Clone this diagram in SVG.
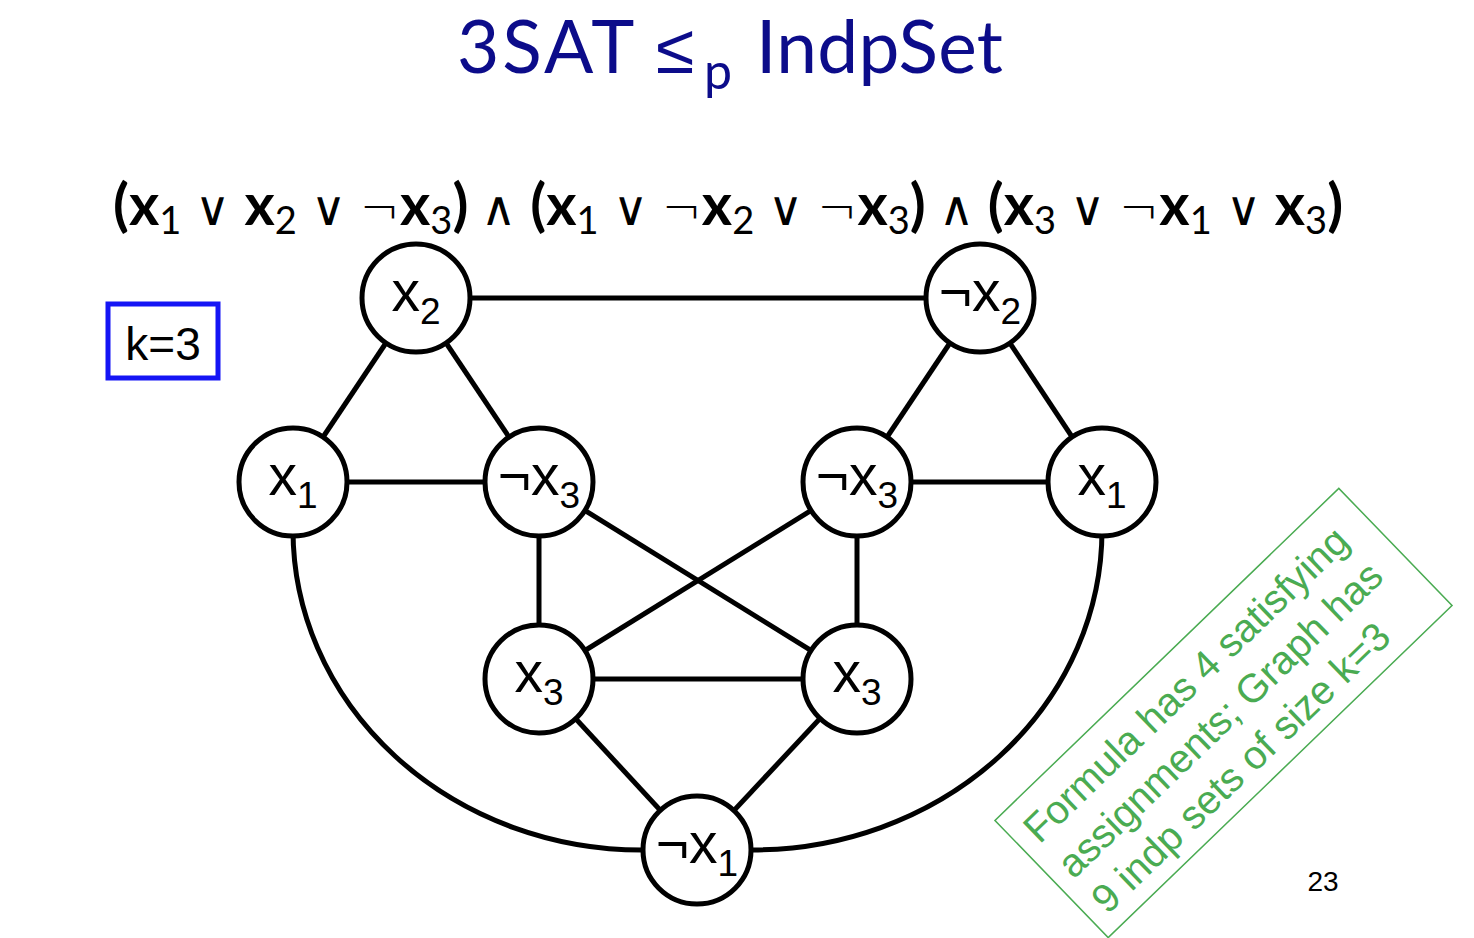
<svg xmlns="http://www.w3.org/2000/svg" width="1474" height="938" viewBox="0 0 1474 938">
<style>
.edge{stroke:#000;stroke-width:5;fill:none}
.node{fill:#fff;stroke:#000;stroke-width:5}
.lbl{font-family:"Liberation Sans",Arial,sans-serif;font-size:57px;fill:#000;text-anchor:middle}
.sub{font-size:37px}
.title{font-family:Lato,"Open Sans",sans-serif;font-size:73px;fill:#0c0c8a}
.formula{font-family:Lato,"Open Sans",sans-serif;font-size:58px;fill:#000;font-weight:bold;word-spacing:-1.2px}
.op{font-family:"DejaVu Sans",sans-serif;font-weight:200;font-size:48px}
.fsub{font-size:38px;font-weight:normal}
.note{font-family:"Liberation Sans",Arial,sans-serif;font-size:40px;fill:#4aab52}
</style>
<rect width="1474" height="938" fill="#fff"/>
<text class="title" y="73"><tspan x="457" letter-spacing="3">3SAT</tspan><tspan x="656" font-family="DejaVu Sans,sans-serif" font-weight="200" font-size="70">≤</tspan><tspan x="704" font-size="50" dy="16">p</tspan><tspan x="756" dy="-16" textLength="247">IndpSet</tspan></text>
<text class="formula" x="113" y="225">(x<tspan class="fsub" dy="9">1</tspan><tspan dy="-9" class="op"> ∨ </tspan>x<tspan class="fsub" dy="9">2</tspan><tspan dy="-9" class="op"> ∨ ¬</tspan>x<tspan class="fsub" dy="9">3</tspan><tspan dy="-9">) </tspan><tspan class="op">∧ </tspan>(x<tspan class="fsub" dy="9">1</tspan><tspan dy="-9" class="op"> ∨ ¬</tspan>x<tspan class="fsub" dy="9">2</tspan><tspan dy="-9" class="op"> ∨ ¬</tspan>x<tspan class="fsub" dy="9">3</tspan><tspan dy="-9">) </tspan><tspan class="op">∧ </tspan>(x<tspan class="fsub" dy="9">3</tspan><tspan dy="-9" class="op"> ∨ ¬</tspan>x<tspan class="fsub" dy="9">1</tspan><tspan dy="-9" class="op"> ∨ </tspan>x<tspan class="fsub" dy="9">3</tspan><tspan dy="-9">)</tspan></text>
<g id="k-box">
<rect x="108" y="304" width="110" height="74" fill="none" stroke="#1515f5" stroke-width="5"/>
<text x="163" y="360" font-family="Liberation Sans,Arial,sans-serif" font-size="46" text-anchor="middle">k=3</text>
</g>
<g id="connectors">
<line class="edge" x1="416" y1="298" x2="980" y2="298"/>
<line class="edge" x1="416" y1="298" x2="293" y2="482"/>
<line class="edge" x1="416" y1="298" x2="539" y2="482"/>
<line class="edge" x1="293" y1="482" x2="539" y2="482"/>
<line class="edge" x1="980" y1="298" x2="857" y2="482"/>
<line class="edge" x1="980" y1="298" x2="1102" y2="482"/>
<line class="edge" x1="857" y1="482" x2="1102" y2="482"/>
<line class="edge" x1="539" y1="482" x2="539" y2="679"/>
<line class="edge" x1="539" y1="482" x2="857" y2="679"/>
<line class="edge" x1="857" y1="482" x2="539" y2="679"/>
<line class="edge" x1="857" y1="482" x2="857" y2="679"/>
<line class="edge" x1="539" y1="679" x2="857" y2="679"/>
<line class="edge" x1="539" y1="679" x2="697" y2="850"/>
<line class="edge" x1="857" y1="679" x2="697" y2="850"/>
<path class="edge" d="M293,530 A349 320 0 0 0 642,850"/>
<path class="edge" d="M1102,530 A350 320 0 0 1 752,850"/>
</g>
<g id="n-x2"><circle class="node" cx="416" cy="298" r="54"/><text class="lbl" x="416" y="311">x<tspan class="sub" dy="13">2</tspan></text></g>
<g id="n-nx2"><circle class="node" cx="980" cy="298" r="54"/><text class="lbl" x="980" y="311">¬x<tspan class="sub" dy="13">2</tspan></text></g>
<g id="n-x1a"><circle class="node" cx="293" cy="482" r="54"/><text class="lbl" x="293" y="495">x<tspan class="sub" dy="13">1</tspan></text></g>
<g id="n-nx3a"><circle class="node" cx="539" cy="482" r="54"/><text class="lbl" x="539" y="495">¬x<tspan class="sub" dy="13">3</tspan></text></g>
<g id="n-nx3b"><circle class="node" cx="857" cy="482" r="54"/><text class="lbl" x="857" y="495">¬x<tspan class="sub" dy="13">3</tspan></text></g>
<g id="n-x1b"><circle class="node" cx="1102" cy="482" r="54"/><text class="lbl" x="1102" y="495">x<tspan class="sub" dy="13">1</tspan></text></g>
<g id="n-x3a"><circle class="node" cx="539" cy="679" r="54"/><text class="lbl" x="539" y="692">x<tspan class="sub" dy="13">3</tspan></text></g>
<g id="n-x3b"><circle class="node" cx="857" cy="679" r="54"/><text class="lbl" x="857" y="692">x<tspan class="sub" dy="13">3</tspan></text></g>
<g id="n-nx1"><circle class="node" cx="697" cy="850" r="54"/><text class="lbl" x="697" y="863">¬x<tspan class="sub" dy="13">1</tspan></text></g>
<g id="note" transform="translate(1223.5,713) rotate(-44)">
<rect x="-239" y="-81.5" width="478" height="163" fill="none" stroke="#4aab52" stroke-width="1.5"/>
<text class="note" x="-224" y="-33">Formula has 4 satisfying</text>
<text class="note" x="-224" y="16">assignments; Graph has</text>
<text class="note" x="-224" y="65">9 indp sets of size k=3</text>
</g>
<text x="1323" y="891" font-family="Liberation Sans,Arial,sans-serif" font-size="28" text-anchor="middle">23</text>
</svg>
